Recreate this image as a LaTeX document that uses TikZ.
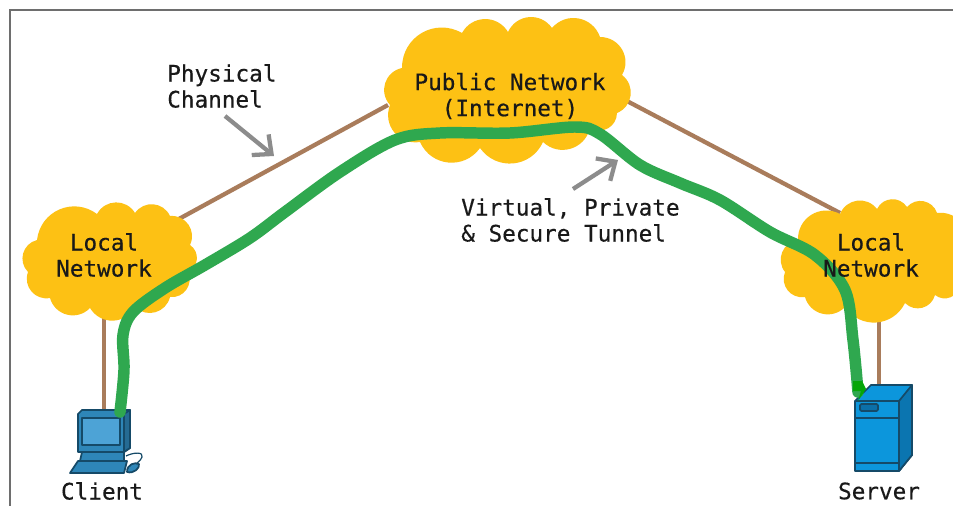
\documentclass[tikz,border=0pt]{standalone}
\usepackage{fontspec}
\setmainfont[FakeBold=0.4]{DejaVu Sans Mono}
\usetikzlibrary{arrows.meta}
\definecolor{cloudc}{HTML}{FDC114}
\definecolor{brownc}{HTML}{A97C5B}
\definecolor{greenc}{HTML}{2FA84F}
\definecolor{grayc}{HTML}{8C8C8C}
\definecolor{framec}{HTML}{6E6E6E}
\definecolor{edgec}{HTML}{154A68}
\definecolor{pcblue}{HTML}{2E86B8}
\definecolor{scrblue}{HTML}{4DA3D6}
\definecolor{srvblue}{HTML}{0C96DC}
\definecolor{srvdark}{HTML}{0B6FA8}
\tikzset{
  lbl/.style={font=\fontsize{17pt}{19.5pt}\selectfont, align=center, text=black!90, inner sep=0pt},
  lbll/.style={lbl, align=left},
  wire/.style={brownc, line width=3.2pt},
  pointer/.style={grayc, line width=3.2pt, -{Straight Barb[length=11pt,width=20pt,line width=3.2pt]}},
  tunnel/.style={greenc, line width=8.6pt, line cap=round, line join=round},
  iconline/.style={edgec, line width=1.3pt, line join=round},
  cloudshape/.style={fill=cloudc, every to/.style={bend left=60, looseness=1.15}}
}
\begin{document}
\begin{tikzpicture}[x=0.75pt,y=-0.75pt]
\useasboundingbox (0,0) rectangle (953,506);
\fill[white] (0,0) rectangle (953,506);
\draw[framec, line width=1.5pt] (10,506) -- (10,10) -- (953,10);

% anchors of the connectors
\coordinate (pubL) at (388,105);
\coordinate (pubR) at (625,100);
\coordinate (locLtop) at (177,220);
\coordinate (locRtop) at (840,213);
\coordinate (locLbot) at (104,310);
\coordinate (locRbot) at (879,310);
\coordinate (pcTop) at (104,412);
\coordinate (srvTop) at (879,388);

\draw[wire] (locLtop) -- (pubL);
\draw[wire] (pubR) -- (locRtop);
\draw[wire] (locLbot) -- (pcTop);
\draw[wire] (locRbot) -- (srvTop);

% public cloud
\path[cloudshape] (402,68) to (462,33) to (508,32) to (552,28) to (600,37) to (622,75) to (617,113) to (590,128) to (543,142) to (480,148) to (420,142) to (390,105) to (402,68);
% left cloud
\path[cloudshape] (37,240) to (97,214) to (135,213) to (170,216) to (190,245) to (188,272) to (170,297) to (135,307) to (90,308) to (50,298) to (28,272) to (37,240);
% right cloud
\path[cloudshape] (798,240) to (840,214) to (877,209) to (907,207) to (937,213) to (965,250) to (960,285) to (935,295) to (905,303) to (845,307) to (805,297) to (785,272) to (798,240);

% client computer
\draw[iconline, fill=pcblue] (82,452) -- (124,452) -- (124,461) -- (80,461) -- cycle;
\draw[iconline, fill=pcblue] (78,461) -- (127,461) -- (124,473) -- (70,473) -- cycle;
\draw[iconline, fill=pcblue] (82,410) -- (130,410) -- (130,448) -- (124,452) -- (78,452) -- (78,414) -- cycle;
\draw[iconline, fill=scrblue] (82,418) -- (120,418) -- (120,445) -- (82,445) -- cycle;
\draw[iconline, fill=pcblue!80!black] (124,414) -- (130,410) -- (130,448) -- (124,452) -- cycle;
\draw[iconline, fill=pcblue] (127,472) .. controls (127,464) and (135,462) .. (139,464) .. controls (140,468) and (134,474) .. cycle;
\draw[iconline, line width=.9pt] (126,456) .. controls (134,452) and (144,452) .. (142,457) .. controls (140,462) and (138,461) .. (136,464);

% server
\draw[iconline, fill=srvblue] (855,401) -- (871,385) -- (912,385) -- (912,455) -- (899,471) -- (855,471) -- cycle;
\draw[iconline, fill=srvdark!85!srvblue] (899,401) -- (912,385) -- (912,455) -- (899,471) -- cycle;
\draw[iconline] (855,401) -- (899,401);
\draw[iconline] (855,418) -- (899,418);
\draw[iconline] (855,463) -- (899,463);
\draw[iconline, fill=srvdark, rounded corners=1pt] (860,404) rectangle (878,411);

% tunnel
\draw[tunnel] plot[smooth, tension=0.55] coordinates {(120,412) (124,370) (123,335) (133,312) (165,288) (205,265) (250,238) (285,212) (340,172) (395,140) (440,133) (510,133) (575,127) (600,134) (640,165) (680,183) (720,200) (770,232) (815,255) (845,290) (853,340) (858,392)};
\fill[green!65!black!90!greenc] (853,381) -- (862,381) -- (866,389) -- (858,401) -- (861,391) -- (853,391) -- cycle;

% pointers
\coordinate (p1a) at (225,116);
\coordinate (p1b) at (274,156);
\coordinate (p2a) at (573,189);
\coordinate (p2b) at (618,160);
\draw[pointer] (p1a) -- (p1b);
\draw[pointer] (p2a) -- (p2b);

% labels
\node[lbl] (pubtxt) at (510,96) {Public Network\\(Internet)};
\node[lbl] (lltxt) at (104,255) {Local\\Network};
\node[lbl] (lrtxt) at (871,255) {Local\\Network};
\node[lbll, anchor=west] (phys) at (167,86) {Physical\\Channel};
\node[lbll, anchor=west] (virt) at (461,220) {Virtual, Private\\\& Secure Tunnel};
\node[lbl] (clt) at (102,491) {Client};
\node[lbl] (srvt) at (879,491) {Server};
\end{tikzpicture}
\end{document}
